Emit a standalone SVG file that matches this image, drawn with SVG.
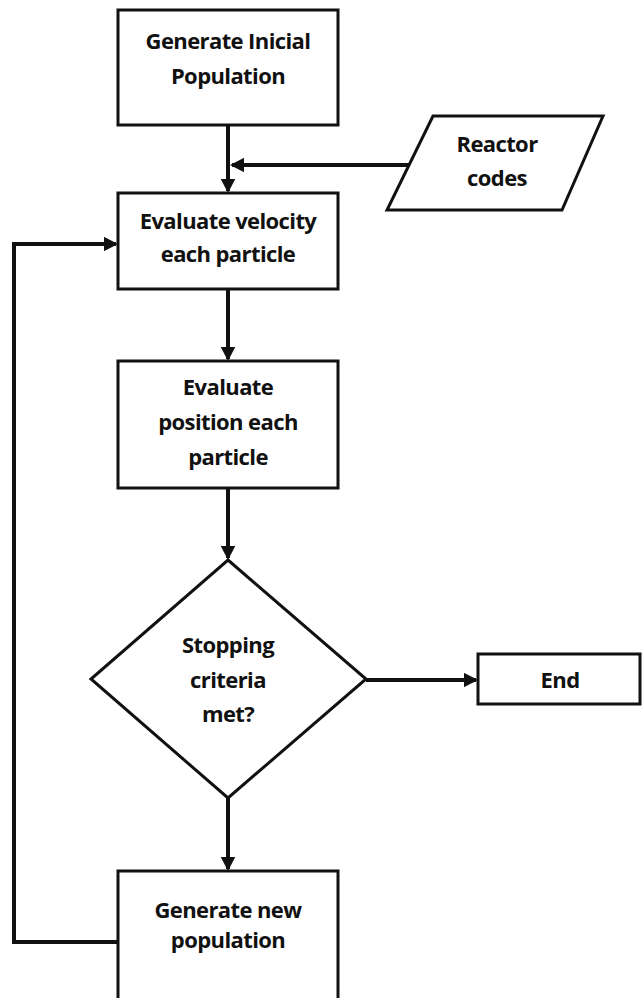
<svg xmlns="http://www.w3.org/2000/svg" width="643" height="998" viewBox="0 0 643 998">
<style>
.box{fill:#fff;stroke:#111;stroke-width:3}
.lbl{font-family:"Open Sans","Liberation Sans",sans-serif;font-weight:bold;font-size:22px;fill:#111;text-anchor:middle;letter-spacing:-0.6px}
.con{fill:none;stroke:#111;stroke-width:4}
</style>
<defs>
<marker id="ah" markerWidth="3.5" markerHeight="3.6" refX="3" refY="1.8" orient="auto" markerUnits="strokeWidth">
<path d="M0,0 L3.5,1.8 L0,3.6 z" fill="#111"/>
</marker>
</defs>
<rect width="643" height="998" fill="#fff"/>
<g id="connectors">
<path class="con" d="M228,125 V191" marker-end="url(#ah)"/>
<path class="con" d="M412,165 H232" marker-end="url(#ah)"/>
<path class="con" d="M228,289 V359" marker-end="url(#ah)"/>
<path class="con" d="M228,488 V558" marker-end="url(#ah)"/>
<path class="con" d="M366,680 H476" marker-end="url(#ah)"/>
<path class="con" d="M228,798 V869" marker-end="url(#ah)"/>
<path class="con" d="M118,942 H14 V244 H116" marker-end="url(#ah)"/>
</g>
<g id="n1">
<rect class="box" x="118" y="10" width="220" height="115"/>
<text class="lbl" x="228" y="49">Generate Inicial</text>
<text class="lbl" x="228" y="84">Population</text>
</g>
<g id="n2">
<polygon class="box" points="433,116 603,116 562,210 387,210"/>
<text class="lbl" x="497" y="152">Reactor</text>
<text class="lbl" x="497" y="186">codes</text>
</g>
<g id="n3">
<rect class="box" x="118" y="193" width="220" height="96"/>
<text class="lbl" x="228" y="229">Evaluate velocity</text>
<text class="lbl" x="228" y="262">each particle</text>
</g>
<g id="n4">
<rect class="box" x="118" y="361" width="220" height="127"/>
<text class="lbl" x="228" y="395">Evaluate</text>
<text class="lbl" x="228" y="430">position each</text>
<text class="lbl" x="228" y="465">particle</text>
</g>
<g id="n5">
<polygon class="box" points="228,560 366,679 228,798 91,679"/>
<text class="lbl" x="228" y="653">Stopping</text>
<text class="lbl" x="228" y="688">criteria</text>
<text class="lbl" x="228" y="722">met?</text>
</g>
<g id="n6">
<rect class="box" x="478" y="654" width="162" height="50"/>
<text class="lbl" x="560" y="688">End</text>
</g>
<g id="n7">
<rect class="box" x="118" y="871" width="220" height="140"/>
<text class="lbl" x="228" y="918">Generate new</text>
<text class="lbl" x="228" y="948">population</text>
</g>
</svg>
